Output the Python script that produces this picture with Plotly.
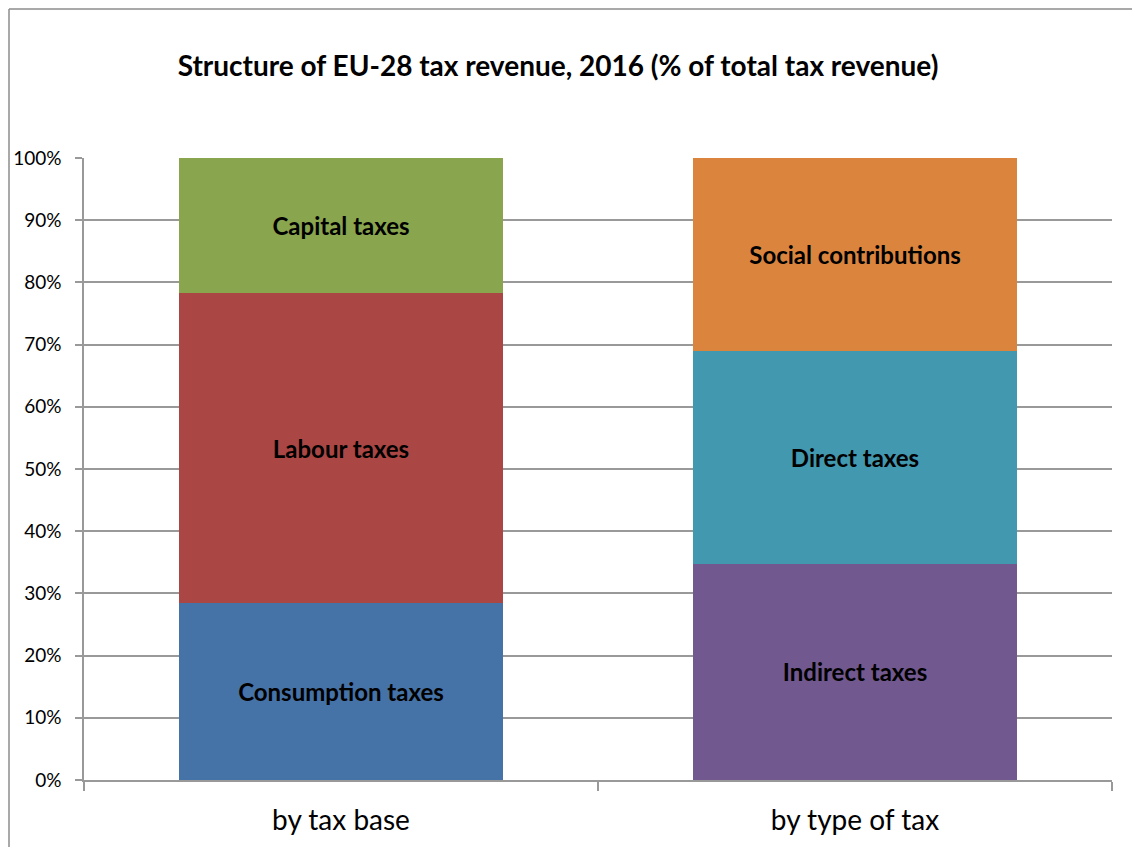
import plotly.graph_objects as go

# Categories on the x axis
categories = ["by tax base", "by type of tax"]

# Shares of total tax revenue (%), stacked bottom to top
base_names = ["Consumption taxes", "Labour taxes", "Capital taxes"]
base_values = [28.4, 49.9, 21.7]
base_colors = ["#4572A7", "#AA4643", "#89A54E"]

type_names = ["Indirect taxes", "Direct taxes", "Social contributions"]
type_values = [34.8, 34.2, 31.0]
type_colors = ["#71588F", "#4198AF", "#DB843D"]

y_ticks = list(range(0, 101, 10))
y_tick_text = [f"{v}%" for v in y_ticks]

FONT = "Lato, 'Open Sans', sans-serif"
GRID = "#999999"

fig = go.Figure()

for cat, names, values, colors in [
    (categories[0], base_names, base_values, base_colors),
    (categories[1], type_names, type_values, type_colors),
]:
    for name, val, col in zip(names, values, colors):
        fig.add_trace(go.Bar(
            x=[cat], y=[val], name=name,
            marker=dict(color=col, line=dict(width=0)),
            text=[f"<b>{name}</b>"],
            textposition="inside",
            insidetextanchor="middle",
            textangle=0,
            textfont=dict(family=FONT, size=24, color="black"),
            hoverinfo="name+y",
        ))

W, H = 1132, 847
L, R, T, B = 84, 20, 158, 67
pw, ph = W - L - R, H - T - B

# outer chart frame (left and top edges visible)
fx0 = (9 - L) / pw
fy1 = (H - B - 9) / ph
fig.add_shape(type="line", xref="paper", yref="paper",
              x0=fx0, x1=fx0, y0=-1, y1=fy1,
              line=dict(color="#8c8c8c", width=1.5))
fig.add_shape(type="line", xref="paper", yref="paper",
              x0=fx0, x1=1.2, y0=fy1, y1=fy1,
              line=dict(color="#8c8c8c", width=1.5))

fig.update_layout(
    width=W, height=H,
    margin=dict(l=L, r=R, t=T, b=B),
    paper_bgcolor="white", plot_bgcolor="white",
    barmode="stack", bargap=0.368,
    showlegend=False,
    title=dict(text="<b>Structure of EU-28 tax revenue, 2016 (% of total tax revenue)</b>",
               x=558 / W, xanchor="center", y=1 - 66 / H, yanchor="middle",
               font=dict(family=FONT, size=28, color="black")),
    font=dict(family=FONT, color="black"),
)

fig.update_xaxes(
    categoryorder="array", categoryarray=categories,
    showline=True, linecolor=GRID, linewidth=1.5,
    ticks="outside", tickson="boundaries", ticklen=9, tickcolor=GRID, tickwidth=1.5,
    tickfont=dict(family=FONT, size=28, color="black"),
    ticklabelstandoff=15,
    showgrid=False,
)
fig.update_yaxes(
    range=[0, 100], tickvals=y_ticks, ticktext=y_tick_text,
    showline=True, linecolor=GRID, linewidth=1.5,
    ticks="outside", ticklen=7, tickcolor=GRID, tickwidth=1.5,
    showgrid=True, gridcolor=GRID, gridwidth=1.5,
    tickfont=dict(family=FONT, size=19, color="black"),
    ticklabelstandoff=10,
    zeroline=False,
)

fig.write_html("out.html")
